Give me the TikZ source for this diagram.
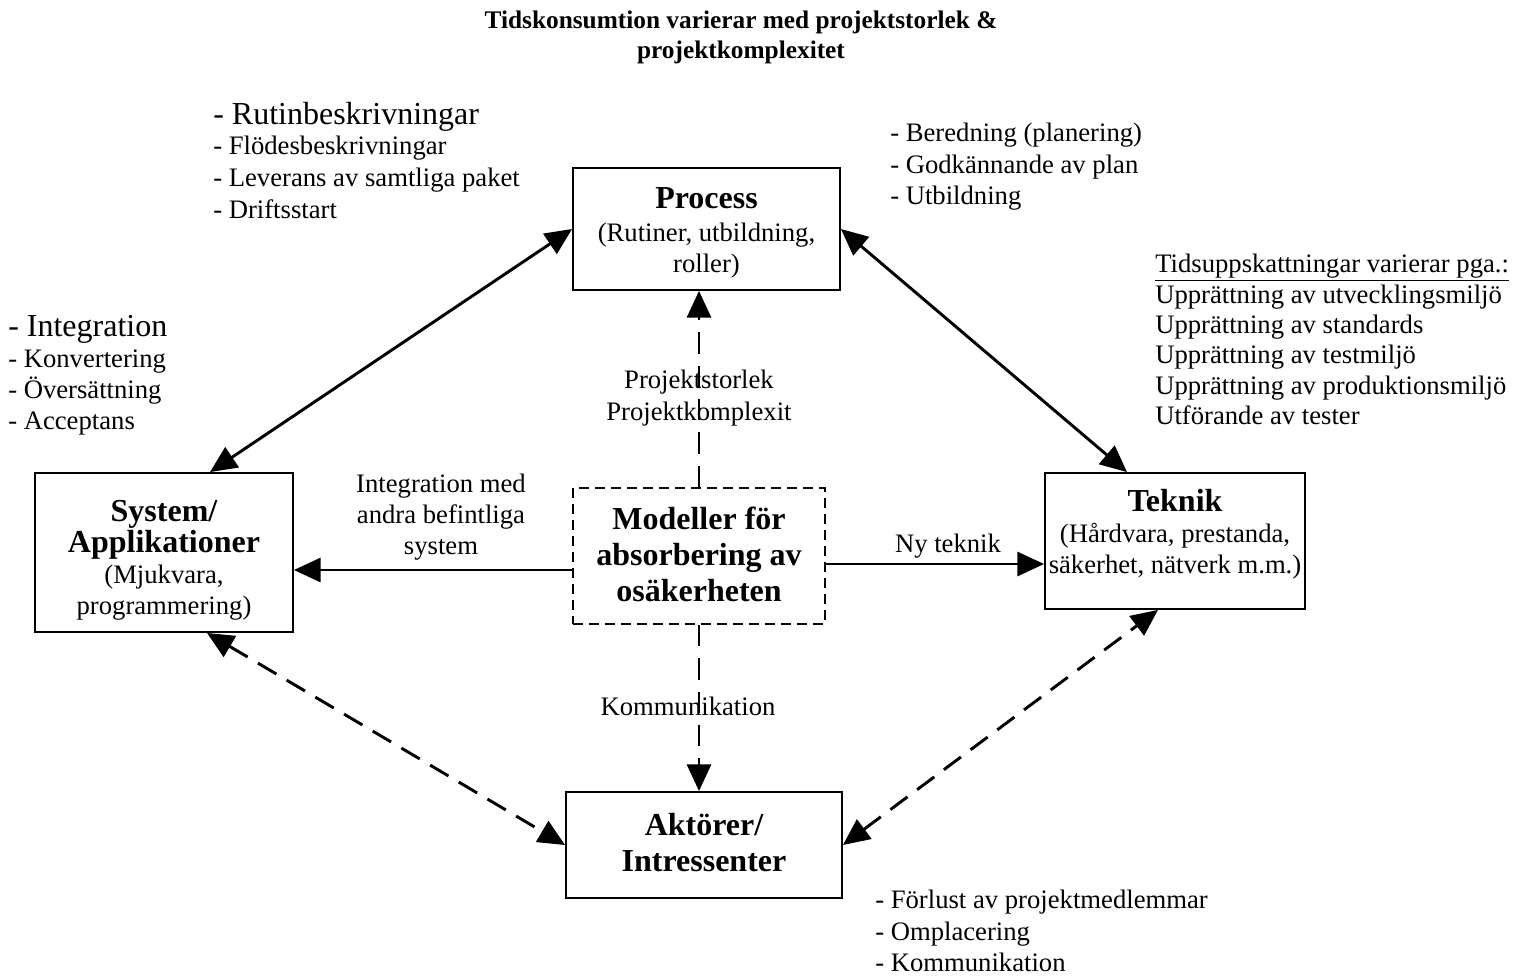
\documentclass[tikz,border=0pt]{standalone}
\usepackage{fontspec}
\setmainfont{Liberation Serif}
\usetikzlibrary{arrows.meta,calc}
\newcommand{\bigbf}{\fontsize{24}{27}\selectfont\bfseries}
\newcommand{\bodyf}{\fontsize{20}{23.25}\selectfont}
\newcommand{\bigf}{\fontsize{24}{27}\selectfont}
\tikzset{
  box/.style={draw, line width=1.4pt, inner sep=0pt},
  boxtext/.style={align=center, inner sep=0pt, font=\bodyf},
  txt/.style={inner sep=0pt, font=\bodyf},
  tip/.tip={Triangle[length=20pt,width=18pt]},
  conn/.style={line width=2.2pt, -tip},
  both/.style={line width=2.2pt, tip-tip},
  longdash/.style={dash pattern=on 16pt off 9pt},
}
\begin{document}
\begin{tikzpicture}[x=0.75pt,y=-0.75pt]
\useasboundingbox (0,0) rectangle (1525,976);

% title
\node[txt, anchor=north, align=center, font=\fontsize{19}{22.5}\selectfont\bfseries] (title) at (741,11)
  {Tidskonsumtion varierar med projektstorlek \&\\projektkomplexitet};

% boxes
\node[box, minimum width=200.25pt, minimum height=91.5pt] (proc) at (706.5,229) {};
\node[boxtext] (proc-t) at (706.5,233) {{\bigbf Process}\\[2pt](Rutiner, utbildning,\\roller)};
\node[box, minimum width=193.5pt, minimum height=119.25pt] (sys) at (164,552.5) {};
\node[boxtext] (sys-t) at (164,560) {{\bigbf System/}\\{\bigbf Applikationer}\\(Mjukvara,\\programmering)};
\node[box, minimum width=195pt, minimum height=102pt] (tek) at (1175,541) {};
\node[boxtext] (tek-t) at (1175,534) {{\bigbf Teknik}\\(Hårdvara, prestanda,\\säkerhet, nätverk m.m.)};
\node[box, dash pattern=on 7.5pt off 4.5pt, minimum width=189pt, minimum height=102pt] (mid) at (699,556) {};
\node[boxtext, font=\bigbf] (mid-t) at (699,554) {Modeller för\\absorbering av\\osäkerheten};
\node[box, minimum width=207pt, minimum height=79.5pt] (akt) at (704,845) {};
\node[boxtext, font=\bigbf] (akt-t) at (704,843) {Aktörer/\\Intressenter};

% text blocks
\node[txt, anchor=north west, font=\bigf] (rutin) at (213,102) {- Rutinbeskrivningar};
\node[txt, anchor=north west, align=left, font=\fontsize{20}{24}\selectfont] (rutinlist) at (213,136)
  {- Flödesbeskrivningar\\- Leverans av samtliga paket\\- Driftsstart};
\node[txt, anchor=north west, font=\bigf] (integ) at (8,315) {- Integration};
\node[txt, anchor=north west, align=left] (integlist) at (8,350)
  {- Konvertering\\- Översättning\\- Acceptans};
\node[txt, anchor=north west, align=left, font=\fontsize{20}{23.6}\selectfont] (bered) at (890,123)
  {- Beredning (planering)\\- Godkännande av plan\\- Utbildning};
\node[txt, anchor=north west, align=left, font=\fontsize{20}{22.8}\selectfont] (tids) at (1155,254)
  {\underline{Tidsuppskattningar varierar pga.:}\\Upprättning av utvecklingsmiljö\\Upprättning av standards\\Upprättning av testmiljö\\Upprättning av produktionsmiljö\\Utförande av tester};
\node[txt, anchor=north west, align=left, font=\fontsize{20}{23.6}\selectfont] (forlust) at (875,890)
  {- Förlust av projektmedlemmar\\- Omplacering\\- Kommunikation};

% connector labels
\node[txt, align=center, font=\fontsize{20}{24.5}\selectfont] (lblproj) at (699,398) {Projektstorlek\\Projektkomplexit};
\node[txt, align=center] (lblinteg) at (441,517) {Integration med\\andra befintliga\\system};
\node[txt] (lblny) at (948,546) {Ny teknik};
\node[txt] (lblkom) at (688,706) {Kommunikation};

% connector ends
\coordinate (ml) at ($(mid.west)+(0,14)$);
\coordinate (mr) at ($(mid.east)+(0,8)$);

% connectors
\draw[both] ($(sys.north)+(46,0)$) -- (proc.west);
\draw[both] (proc.east) -- ($(tek.north)+(-48,0)$);
\draw[conn, longdash] (mid.north) -- (mid.north |- proc.south);
\draw[conn, longdash] (mid.south) -- (mid.south |- akt.north);
\draw[conn] (ml) -- (ml -| sys.east);
\draw[conn] (mr) -- (mr -| tek.west);
\draw[both, longdash] ($(sys.south)+(43,0)$) -- (akt.west);
\draw[both, longdash] (akt.east) -- ($(tek.south)+(-17,0)$);
\end{tikzpicture}
\end{document}
